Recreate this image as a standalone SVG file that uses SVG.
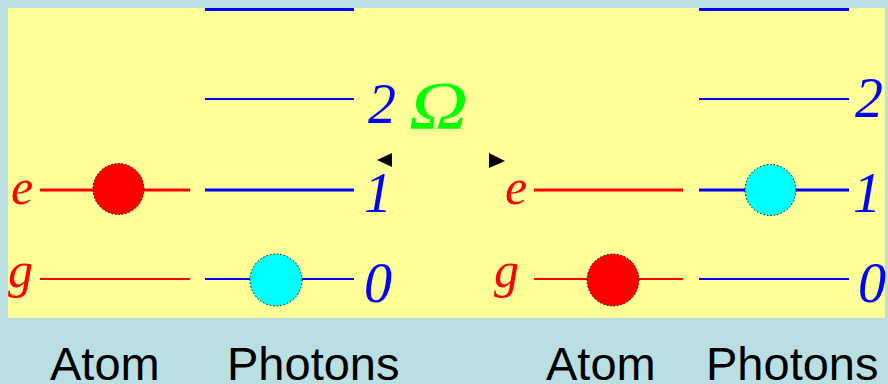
<svg xmlns="http://www.w3.org/2000/svg" width="888" height="384" viewBox="0 0 888 384">
<style>
.lvl{font-family:"Liberation Serif","DejaVu Serif",serif;font-style:italic}
.atom{fill:#FF0000;font-size:50px}
.ph{fill:#0000FF;font-size:56px}
.thickB{stroke:#0000FF;stroke-width:3}
.thinB{stroke:#0000FF;stroke-width:2}
.thickR{stroke:#FF0000;stroke-width:3}
.thinR{stroke:#FF0000;stroke-width:2}
.ball{stroke:#000;stroke-width:1;stroke-dasharray:1.5 2}
.cap{font-family:"Liberation Sans",Arial,sans-serif;font-size:47px;fill:#000}
</style>
<rect width="888" height="384" fill="#BADFE3"/>
<rect x="8" y="8" width="877" height="310" fill="#FFFF99"/>

<g id="left-atom">
<text class="lvl atom" x="11" y="204">e</text>
<text class="lvl atom" x="8" y="287">g</text>
<line class="thickR" x1="40" y1="190" x2="190" y2="190"/>
<line class="thinR" x1="40" y1="279" x2="190" y2="279"/>
<circle class="ball" cx="118.5" cy="189" r="25.5" fill="#FF0000"/>
</g>

<g id="left-photons">
<line class="thickB" x1="205" y1="9.5" x2="354" y2="9.5"/>
<line class="thinB" x1="205" y1="99" x2="354" y2="99"/>
<line class="thickB" x1="205" y1="190" x2="354" y2="190"/>
<line class="thinB" x1="205" y1="279" x2="354" y2="279"/>
<circle class="ball" cx="276" cy="280" r="26" fill="#00FFFF"/>
<text class="lvl ph" x="368" y="123">2</text>
<text class="lvl ph" x="364" y="212">1</text>
<text class="lvl ph" x="364" y="302">0</text>
</g>

<g id="omega">
<text class="lvl" x="0" y="0" font-size="68" fill="#00FF00" transform="translate(409,128) scale(1.2,1)">Ω</text>
</g>

<g id="connectors">
<polygon points="377,160 392,153 392,167" fill="#000"/>
<polygon points="505,161 489,153 489,168" fill="#000"/>
</g>

<g id="right-atom">
<text class="lvl atom" x="505" y="204">e</text>
<text class="lvl atom" x="494" y="287">g</text>
<line class="thickR" x1="534" y1="190" x2="683" y2="190"/>
<line class="thinR" x1="534" y1="279" x2="683" y2="279"/>
<circle class="ball" cx="613" cy="280" r="26" fill="#FF0000"/>
</g>

<g id="right-photons">
<line class="thickB" x1="699" y1="9.5" x2="849" y2="9.5"/>
<line class="thinB" x1="699" y1="99" x2="849" y2="99"/>
<line class="thickB" x1="699" y1="190" x2="849" y2="190"/>
<line class="thinB" x1="699" y1="279" x2="849" y2="279"/>
<circle class="ball" cx="770.5" cy="190" r="25.5" fill="#00FFFF"/>
<text class="lvl ph" x="855" y="117">2</text>
<text class="lvl ph" x="853" y="212">1</text>
<text class="lvl ph" x="858" y="302">0</text>
</g>

<g id="captions">
<text class="cap" x="50" y="380">Atom</text>
<text class="cap" x="227" y="380">Photons</text>
<text class="cap" x="546" y="380">Atom</text>
<text class="cap" x="706" y="380">Photons</text>
</g>
</svg>
